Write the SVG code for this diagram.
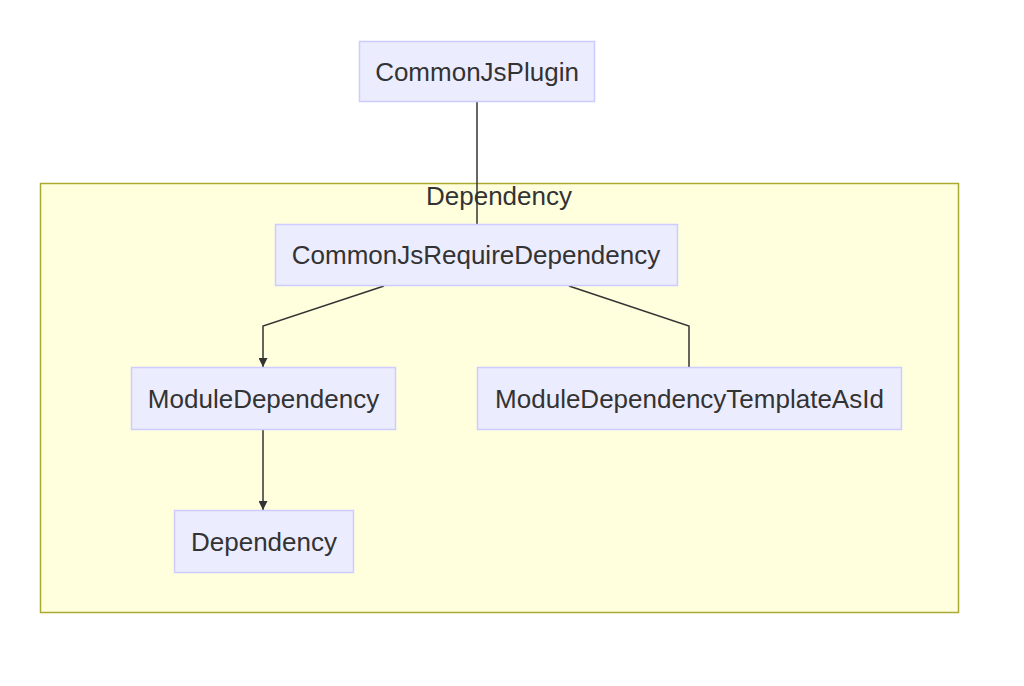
<svg xmlns="http://www.w3.org/2000/svg" width="1024" height="686" viewBox="0 0 1024 686">
<style>
.node rect{fill:#ececff;stroke:#ccccff;stroke-width:1.5}
.node text,.cluster text{font-family:"Liberation Sans",Arial,sans-serif;font-size:26px;fill:#333;text-anchor:middle}
.node text{dominant-baseline:central}
.edge{fill:none;stroke:#333;stroke-width:1.5}
</style>
<defs>
<marker id="arrow" viewBox="0 0 10 10" refX="10" refY="5" markerWidth="6" markerHeight="6" markerUnits="strokeWidth" orient="auto">
<path d="M0,0 L10,5 L0,10 z" fill="#333"/>
</marker>
</defs>
<rect width="1024" height="686" fill="#ffffff"/>
<g id="cluster-Dependency" class="cluster">
<rect x="40.5" y="183.5" width="918" height="429" fill="#ffffde" stroke="#aaaa33" stroke-width="1.5"/>
<text x="499" y="205">Dependency</text>
</g>
<g id="connectors">
<path class="edge" d="M477,102 L477,224"/>
<path class="edge" d="M384,286 L263,326 L263,367" marker-end="url(#arrow)"/>
<path class="edge" d="M569,286 L689,326 L689,367"/>
<path class="edge" d="M263,430 L263,510" marker-end="url(#arrow)"/>
</g>
<g id="CommonJsPlugin" class="node">
<rect x="359.5" y="41.5" width="235" height="60"/>
<text x="477" y="71.5">CommonJsPlugin</text>
</g>
<g id="CommonJsRequireDependency" class="node">
<rect x="275.5" y="224.5" width="402" height="61"/>
<text x="476" y="255">CommonJsRequireDependency</text>
</g>
<g id="ModuleDependency" class="node">
<rect x="131.5" y="367.5" width="264" height="62"/>
<text x="263.5" y="398.5">ModuleDependency</text>
</g>
<g id="ModuleDependencyTemplateAsId" class="node">
<rect x="477.5" y="367.5" width="424" height="62"/>
<text x="689.5" y="398.5">ModuleDependencyTemplateAsId</text>
</g>
<g id="Dependency" class="node">
<rect x="174.5" y="510.5" width="179" height="62"/>
<text x="264" y="541.5">Dependency</text>
</g>
</svg>
